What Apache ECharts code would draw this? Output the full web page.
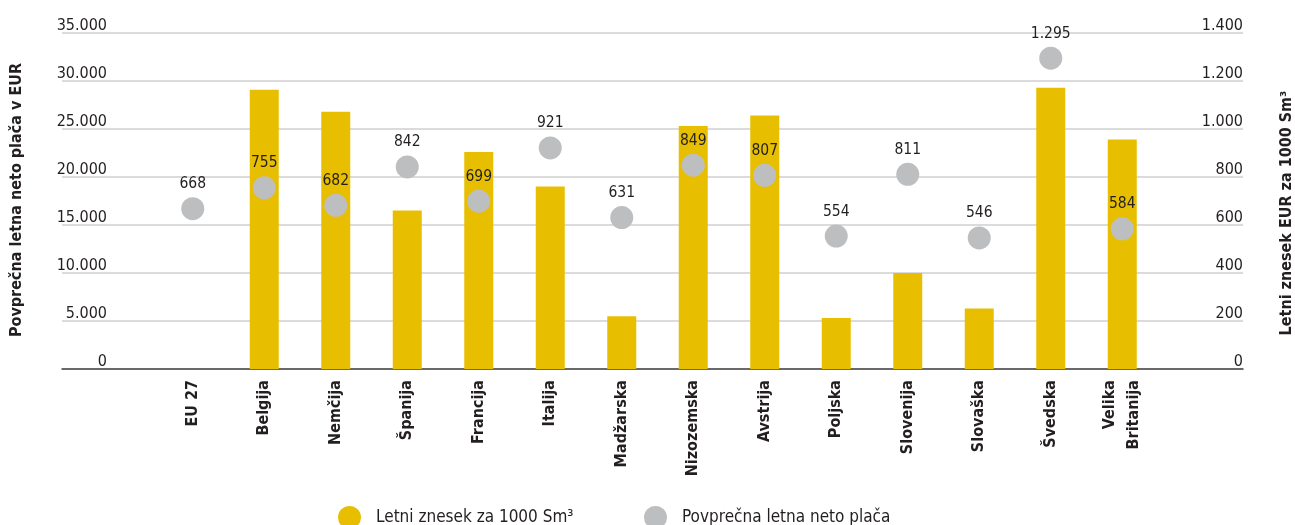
<!DOCTYPE html>
<html>
<head>
<meta charset="utf-8">
<script src="https://cdn.jsdelivr.net/npm/echarts@6/dist/echarts.min.js"></script>
<style>
  html, body { margin: 0; padding: 0; background: #ffffff; }
  #chart { width: 1295px; height: 525px; }
</style>
</head>
<body>
<div id="chart"></div>
<script>
// Country labels along the horizontal axis
const categories = ['EU 27', 'Belgija', 'Nemčija', 'Španija', 'Francija', 'Italija', 'Madžarska',
  'Nizozemska', 'Avstrija', 'Poljska', 'Slovenija', 'Slovaška', 'Švedska', 'Velika\nBritanija'];

// Yellow bars, read against the left axis (EUR)
const barValues = [null, 29100, 26800, 16500, 22600, 19000, 5500, 25300, 26400, 5300, 10000, 6300, 29300, 23900];

// Grey dots, read against the right axis (EUR za 1000 Sm³)
const pointValues = [668, 755, 682, 842, 699, 921, 631, 849, 807, 554, 811, 546, 1295, 584];

// Axis ranges and legend / title texts
const leftAxisMax = 35000, leftAxisStep = 5000;
const rightAxisMax = 1400, rightAxisStep = 200;
const barName = 'Letni znesek za 1000 Sm³';
const pointName = 'Povprečna letna neto plača';
const leftTitle = 'Povprečna letna neto plača v EUR';
const rightTitle = 'Letni znesek EUR za 1000 Sm³';

const FONT = "'DejaVu Sans Condensed', 'Liberation Sans Narrow', sans-serif";
const INK = '#231f20';
const YELLOW = '#e8bf00';
const GREY = '#bdbec0';

// Thousands separated by a dot
const fmt = v => String(v).replace(/\B(?=(\d{3})+(?!\d))/g, '.');

const chart = echarts.init(document.getElementById('chart'), null, { renderer: 'canvas' });

const tickLabel = {
  inside: true,
  verticalAlign: 'bottom',
  fontFamily: FONT,
  fontSize: 16,
  lineHeight: 15,
  color: INK,
  formatter: fmt
};

chart.setOption({
  animation: false,
  backgroundColor: '#ffffff',
  textStyle: { fontFamily: FONT },
  grid: [
    // frame carrying the value scales and gridlines
    { left: 62, right: 52, top: 33, bottom: 156 },
    // inner band for the categories
    { left: 157, right: 137, top: 33, bottom: 156 }
  ],
  xAxis: [
    {
      type: 'value', gridIndex: 0, min: 0, max: 1,
      axisLine: { show: true, lineStyle: { color: '#444', width: 1.5 } },
      axisTick: { show: false }, axisLabel: { show: false }, splitLine: { show: false }
    },
    {
      type: 'category', gridIndex: 1, data: categories,
      axisLine: { show: false }, axisTick: { show: false },
      axisLabel: {
        rotate: 90, margin: 11, interval: 0,
        fontFamily: FONT, fontSize: 16, fontWeight: 'bold', color: INK, lineHeight: 24
      }
    }
  ],
  yAxis: [
    {
      type: 'value', gridIndex: 0, min: 0, max: leftAxisMax, interval: leftAxisStep,
      axisLine: { show: false }, axisTick: { show: false },
      axisLabel: Object.assign({}, tickLabel, { align: 'right', margin: 45 }),
      splitLine: { show: true, lineStyle: { color: '#cfcfcf', width: 1.5 } }
    },
    {
      type: 'value', gridIndex: 0, position: 'right', min: 0, max: rightAxisMax, interval: rightAxisStep,
      axisLine: { show: false }, axisTick: { show: false },
      axisLabel: Object.assign({}, tickLabel, { align: 'right', margin: 0 }),
      splitLine: { show: false }
    },
    { type: 'value', gridIndex: 1, min: 0, max: leftAxisMax, show: false },
    { type: 'value', gridIndex: 1, min: 0, max: rightAxisMax, show: false }
  ],
  legend: [
    {
      data: [barName], left: 338, top: 506, padding: 0,
      itemWidth: 43, itemHeight: 23, symbolKeepAspect: true, icon: 'circle',
      textStyle: { fontFamily: FONT, fontSize: 17, color: INK }
    },
    {
      data: [pointName], left: 644, top: 506, padding: 0,
      itemWidth: 43, itemHeight: 23, symbolKeepAspect: true, icon: 'circle',
      textStyle: { fontFamily: FONT, fontSize: 17, color: INK }
    }
  ],
  graphic: [
    {
      type: 'text', x: 17, y: 200, rotation: Math.PI / 2,
      style: {
        text: leftTitle, fontFamily: FONT, fontSize: 16, fontWeight: 'bold', fill: INK,
        align: 'center', verticalAlign: 'middle'
      }
    },
    {
      type: 'text', x: 1287, y: 213, rotation: Math.PI / 2,
      style: {
        text: rightTitle, fontFamily: FONT, fontSize: 16, fontWeight: 'bold', fill: INK,
        align: 'center', verticalAlign: 'middle'
      }
    }
  ],
  series: [
    {
      name: barName, type: 'bar', xAxisIndex: 1, yAxisIndex: 2,
      data: barValues, barWidth: 29,
      itemStyle: { color: YELLOW }
    },
    {
      name: pointName, type: 'scatter', xAxisIndex: 1, yAxisIndex: 3,
      data: pointValues, symbol: 'circle', symbolSize: 23, z: 5,
      itemStyle: { color: GREY, opacity: 1 },
      label: {
        show: true, position: 'top', distance: 5,
        fontFamily: FONT, fontSize: 15.5, color: INK,
        formatter: p => fmt(p.value)
      }
    }
  ]
});
</script>
</body>
</html>
